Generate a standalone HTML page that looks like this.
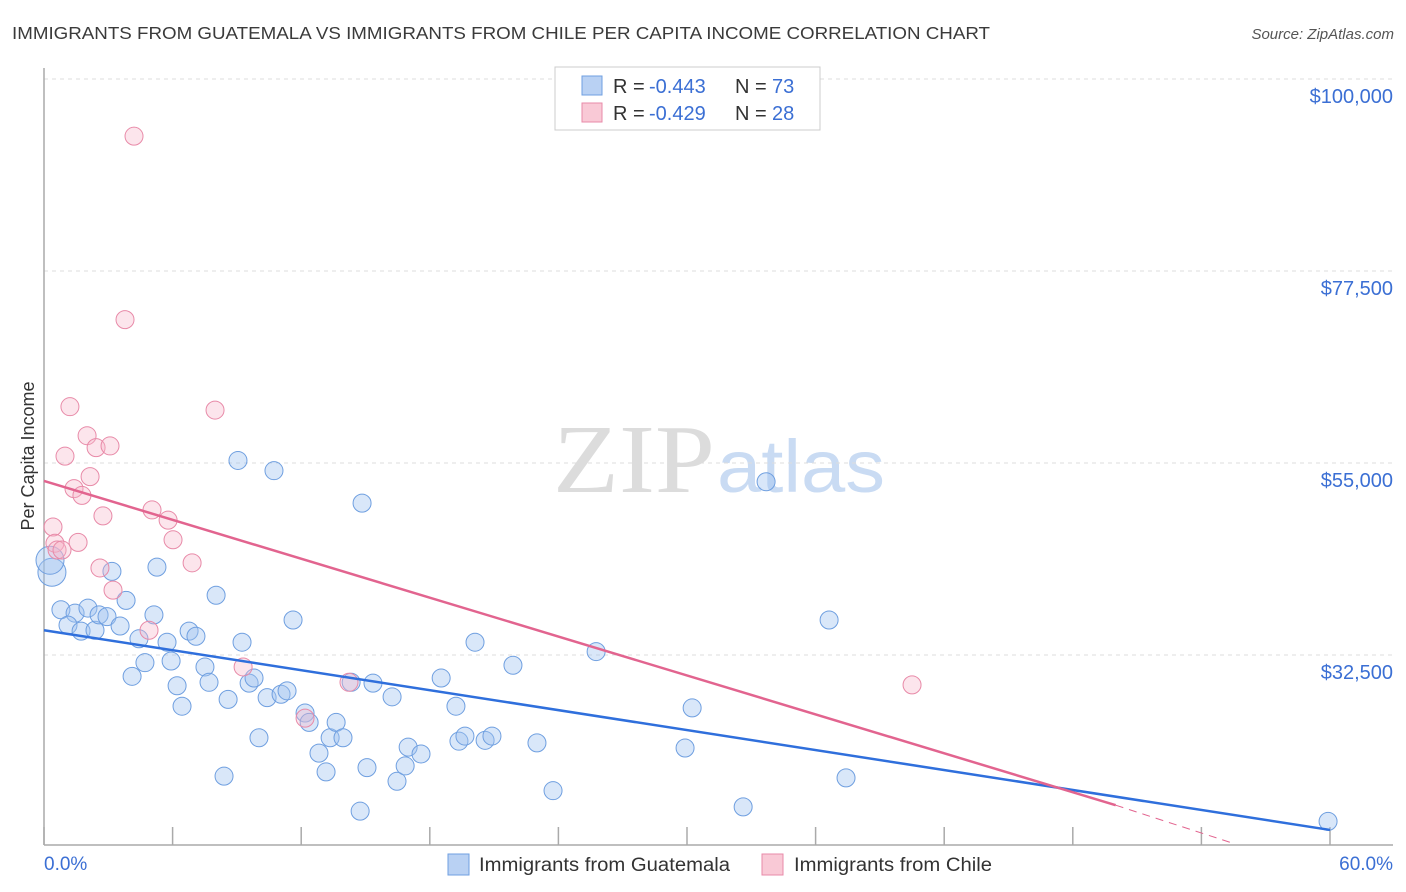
<!DOCTYPE html>
<html><head><meta charset="utf-8"><style>
body{margin:0;background:#fff;font-family:"Liberation Sans",sans-serif}
</style></head><body>
<svg id="chart" width="1406" height="892" xmlns="http://www.w3.org/2000/svg" style="display:block">
<text x="12" y="39" font-size="17.5" fill="#3a3a3a" textLength="978" lengthAdjust="spacingAndGlyphs">IMMIGRANTS FROM GUATEMALA VS IMMIGRANTS FROM CHILE PER CAPITA INCOME CORRELATION CHART</text>
<text x="1394" y="39" font-size="15" fill="#555" font-style="italic" text-anchor="end">Source: ZipAtlas.com</text>
<g>
<text x="553" y="492" font-size="98" fill="#dcdcdc" font-family="Liberation Serif,serif" textLength="162" lengthAdjust="spacingAndGlyphs">ZIP</text>
<text x="717" y="492" font-size="74" fill="#c9dbf3" textLength="168" lengthAdjust="spacingAndGlyphs">atlas</text>
</g>
<g id="grid"></g>
<g id="axes"></g>
<g id="marks"></g>
<g id="lines"></g>
<text transform="translate(34,456) rotate(-90)" font-size="18" fill="#333" text-anchor="middle">Per Capita Income</text>
<g>
<rect x="555" y="67" width="265" height="63" fill="#fff" stroke="#ccc"/>
<rect x="582" y="76" width="20" height="19" fill="#b9d1f3" stroke="#6f9fe0"/>
<rect x="582" y="103" width="20" height="19" fill="#f9c9d6" stroke="#e88aa8"/>
<text x="613" y="93" font-size="20" fill="#333">R =</text><text x="649" y="93" font-size="20" fill="#3b6fd4">-0.443</text>
<text x="735" y="93" font-size="20" fill="#333">N =</text><text x="772" y="93" font-size="20" fill="#3b6fd4">73</text>
<text x="613" y="120" font-size="20" fill="#333">R =</text><text x="649" y="120" font-size="20" fill="#3b6fd4">-0.429</text>
<text x="735" y="120" font-size="20" fill="#333">N =</text><text x="772" y="120" font-size="20" fill="#3b6fd4">28</text>
</g>
<g>
<rect x="448" y="854" width="21" height="21" fill="#b9d1f3" stroke="#6f9fe0"/>
<text x="479" y="871" font-size="19" fill="#333" textLength="251" lengthAdjust="spacingAndGlyphs">Immigrants from Guatemala</text>
<rect x="762" y="854" width="21" height="21" fill="#f9c9d6" stroke="#e88aa8"/>
<text x="794" y="871" font-size="19" fill="#333" textLength="198" lengthAdjust="spacingAndGlyphs">Immigrants from Chile</text>
</g>
</svg>
<script>
const gX=[0.37,0.28,0.79,1.45,1.12,1.73,2.05,2.38,2.57,2.94,3.17,3.55,3.83,4.43,4.11,4.71,5.13,5.27,5.74,5.93,6.21,6.44,6.77,7.09,7.51,7.70,8.03,8.40,8.59,9.05,9.24,9.57,9.80,10.03,10.41,10.73,11.06,11.34,11.62,12.18,12.37,12.83,13.16,13.35,13.63,13.95,14.33,14.75,14.84,15.07,15.35,16.24,16.47,16.85,16.99,17.59,18.53,19.22,19.36,19.64,20.11,20.58,20.90,21.88,23.00,23.75,25.76,29.91,30.24,32.62,33.69,36.63,37.42,59.91];
const gY=[42.2,43.6,37.8,37.4,36.0,35.3,38.0,35.4,37.2,37.0,42.3,35.9,38.9,34.4,30.0,31.6,37.2,42.8,34.0,31.8,28.9,26.5,35.3,34.7,31.1,29.3,39.5,18.3,27.3,55.3,34.0,29.2,29.8,22.8,27.5,54.1,27.9,28.3,36.6,25.7,24.6,21.0,18.8,22.8,24.6,22.8,29.3,14.2,50.3,19.3,29.2,27.6,17.7,19.5,21.7,20.9,29.8,26.5,22.4,23.0,34.0,22.5,23.0,31.3,22.2,16.6,32.9,21.6,26.3,14.7,52.8,36.6,18.1,13.0];
const cX=[0.42,0.51,0.61,0.84,0.98,1.21,1.40,1.59,1.77,2.01,2.15,2.43,2.61,2.75,3.08,3.22,3.78,4.20,4.90,5.04,5.79,6.02,6.91,7.98,9.29,12.18,14.23,40.50];
const cY=[47.5,45.6,44.8,44.8,55.8,61.6,52.0,45.7,51.2,58.2,53.4,56.8,42.7,48.8,57.0,40.1,71.8,93.3,35.4,49.5,48.3,46.0,43.3,61.2,31.1,25.1,29.3,29.0];
const gTrend=[35.4,12.0];
const cTrend=[52.9,14.9,10.5];
const cTrendX=[0,50,55.4];
const yTicks=[100,77.5,55,32.5];
const yTickLabels=["$100,000","$77,500","$55,000","$32,500"];
const xTicks=[0,6,12,18,24,30,36,42,48,54,60];

const NS="http://www.w3.org/2000/svg";
const xs=p=>44+p/60*1286;
const ys=v=>79+(100-v)/22.5*192;
function mk(tag,attrs,parent){const e=document.createElementNS(NS,tag);for(const k in attrs)e.setAttribute(k,attrs[k]);document.getElementById(parent).appendChild(e);return e;}

yTicks.forEach((t,i)=>{
  const l=mk('line',{x1:44,x2:1393,y1:ys(t),y2:ys(t),stroke:'#ddd','stroke-dasharray':'4,4'},'grid');
  
  
  const tx=mk('text',{x:1393,y:ys(t)+24,'font-size':20,fill:'#3b6fd4','text-anchor':'end'},'axes');
  tx.textContent=yTickLabels[i];
  
  
});
const ya=mk('line',{x1:44,x2:44,y1:68,y2:845,stroke:'#aaa','stroke-width':1.5},'axes');


const xa=mk('line',{x1:44,x2:1393,y1:845,y2:845,stroke:'#aaa','stroke-width':1.5},'axes');


xTicks.forEach(t=>{
  const l=mk('line',{x1:xs(t),x2:xs(t),y1:827,y2:845,stroke:'#aaa','stroke-width':1.5},'axes');
  
  
});
const x0=mk('text',{x:44,y:870,'font-size':19,fill:'#3b6fd4'},'axes');x0.textContent='0.0%';


const x1=mk('text',{x:1393,y:870,'font-size':19,fill:'#3b6fd4','text-anchor':'end'},'axes');x1.textContent='60.0%';



gX.forEach((x,i)=>{
  const r=i<2?14:9;
  const c=mk('circle',{cx:xs(x),cy:ys(gY[i]),r:r,fill:'rgba(160,195,240,0.4)',stroke:'#6f9fe0','stroke-width':1},'marks');
  
  
});
cX.forEach((x,i)=>{
  const c=mk('circle',{cx:xs(x),cy:ys(cY[i]),r:9,fill:'rgba(245,180,200,0.35)',stroke:'#e88aa8','stroke-width':1},'marks');
  
  
});
const bl=mk('line',{x1:xs(0),y1:ys(gTrend[0]),x2:xs(60),y2:ys(gTrend[1]),stroke:'#2f6fdc','stroke-width':2.5},'lines');


const pl=mk('line',{x1:xs(cTrendX[0]),y1:ys(cTrend[0]),x2:xs(cTrendX[1]),y2:ys(cTrend[1]),stroke:'#e2648f','stroke-width':2.5},'lines');


const pd=mk('line',{x1:xs(cTrendX[1]),y1:ys(cTrend[1]),x2:xs(cTrendX[2]),y2:ys(cTrend[2]),stroke:'#e2648f','stroke-width':1,'stroke-dasharray':'8,6'},'lines');


</script>
</body></html>
